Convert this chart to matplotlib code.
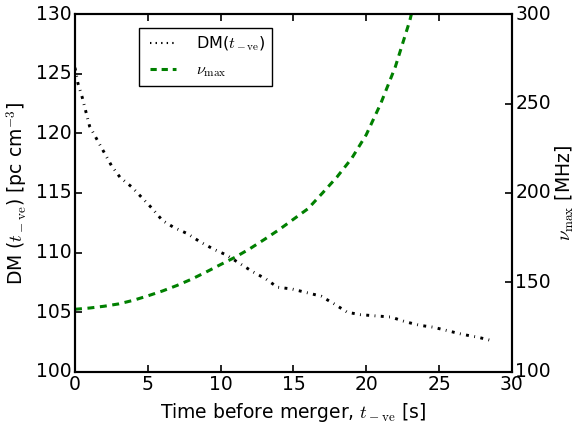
import matplotlib
matplotlib.use("Agg")
import matplotlib.pyplot as plt
from matplotlib.lines import Line2D

plt.style.use("classic")
plt.rcParams["lines.scale_dashes"] = False
plt.rcParams["mathtext.fontset"] = "cm"

# DM along time before merger
t_dm = [0, 0.2, 0.5, 0.75, 1.0, 1.5, 2.0, 2.5, 3.1, 3.9, 4.6, 5.3, 6.0, 6.8,
        7.7, 8.6, 9.5, 10.4, 11.3, 12.2, 13.1, 13.9, 14.9, 15.9, 16.9, 17.8,
        18.7, 19.6, 20.6, 21.7, 22.7, 23.7, 24.6, 25.6, 26.6, 27.7, 28.7]
dm = [125.5, 124.2, 123.0, 121.8, 120.6, 119.5, 118.4, 117.3, 116.3, 115.5,
      114.6, 113.7, 112.7, 112.1, 111.6, 110.9, 110.3, 109.8, 109.1, 108.4,
      107.8, 107.1, 106.95, 106.65, 106.35, 105.7, 105.0, 104.8, 104.7, 104.6,
      104.2, 103.9, 103.75, 103.45, 103.15, 102.9, 102.6]

# max frequency (MHz)
t_nu = list(range(25))
nu_max = [135.0, 135.7, 136.7, 138.0, 140.0, 142.5, 145.2, 148.3, 151.8, 155.8,
          160.0, 164.1, 168.8, 174.0, 179.4, 185.3, 191.2, 200.0, 209.0, 219.3,
          232.5, 250.0, 270.5, 296.5, 330.0]

fig = plt.figure(figsize=(5.77, 4.26), dpi=100, facecolor="white")
ax1 = fig.add_axes([0.130, 0.127, 0.757, 0.840])
ax2 = ax1.twinx()

ax1.plot(t_dm, dm, color="k", lw=2.1, ls=(0, (2.1, 3.9, 0.6, 3.9)))
ax2.plot(t_nu, nu_max, color="g", lw=2.2, ls=(0, (5, 4)))

ax1.set_xlim(0, 30)
ax1.set_ylim(100, 130)
ax2.set_ylim(100, 300)
ax1.set_xticks(range(0, 31, 5))
ax1.set_yticks(range(100, 131, 5))
ax2.set_yticks(range(100, 301, 50))

fs = 13.5
ax1.set_xlabel(r"Time before merger, $t_{\rm -ve}$ [s]", fontsize=fs)
ax1.set_ylabel(r"DM ($t_{\rm -ve}$) [pc cm$^{-3}$]", fontsize=fs)
ax2.set_ylabel(r"$\nu_{\rm max}$ [MHz]", fontsize=fs, labelpad=2)

for ax in (ax1, ax2):
    ax.tick_params(labelsize=fs, width=1.2, length=5, pad=2.5)
    for s in ax.spines.values():
        s.set_linewidth(1.5)

handles = [Line2D([], [], color="k", lw=1.5, ls=":"),
           Line2D([], [], color="g", lw=2.2, ls=(0, (4.5, 3.5)))]
labels = [r"DM($t_{\rm -ve}$)", r"$\nu_{\rm max}$"]
leg = ax1.legend(handles, labels, loc="upper left", bbox_to_anchor=(0.146, 0.961),
                 borderaxespad=0, fontsize=11.5, numpoints=2, handlelength=2.2,
                 labelspacing=0.6, handletextpad=1.0)
leg.get_frame().set_linewidth(1.0)
ax1.set_zorder(ax2.get_zorder() + 1)
ax1.patch.set_visible(False)

fig.savefig("out.png", dpi=100)
